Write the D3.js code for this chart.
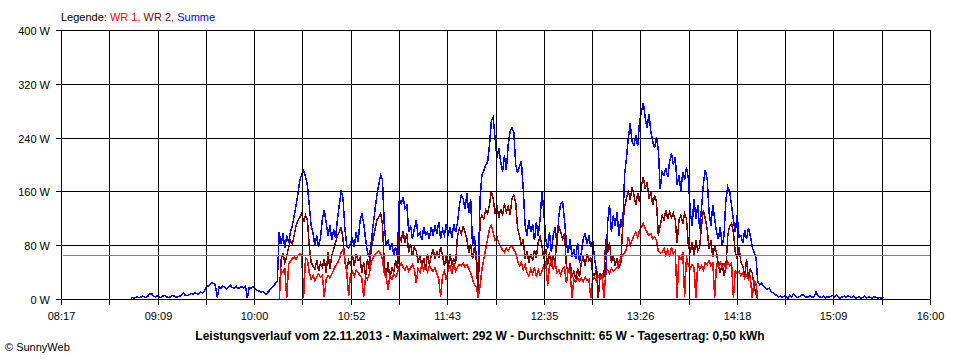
<!DOCTYPE html>
<html><head><meta charset="utf-8">
<script src="https://cdn.jsdelivr.net/npm/d3@7"></script>
<style>
html,body{margin:0;padding:0;background:#fff;}
svg{display:block;}
text{font-family:"Liberation Sans",Arial,sans-serif;font-size:11px;fill:#000;}
</style></head>
<body>
<svg id="c" width="960" height="360"></svg>
<script>
// ---- data ----
const day = [2013, 10, 22];
const axisStart = "08:17";
const axisEnd = "16:00";
const xTickLabels = ["08:17","09:09","10:00","10:52","11:43","12:35","13:26","14:18","15:09","16:00"];
const yTickValues = [0, 80, 160, 240, 320, 400];
const yTickLabels = ["0 W","80 W","160 W","240 W","320 W","400 W"];
const stepMinutes = 1;
const summeStart = "08:54";
const wrStart = "10:13";
const average = 65;
const legendParts = [["Legende: ","#000000"],["WR 1, ","#ff0000"],["WR 2, ","#800000"],["Summe","#0000ff"]];
const titleText = "Leistungsverlauf vom 22.11.2013 - Maximalwert: 292 W - Durchschnitt: 65 W - Tagesertrag: 0,50 kWh";
const footerText = "\u00a9 SunnyWeb";

const summe = [2,3,2,4,3,3,5,4,3,5,
8,9,5,4,6,4,3,5,6,4,
3,4,6,5,3,4,5,7,10,6,
6,7,9,8,10,9,8,11,10,12,
18,20,22,25,24,21,
3,
19,17,20,18,16,19,21,18,17,20,16,18,19,17,20,
2,
18,17,19,16,
14,13,11,12,10,8,
11,14,17,20,24,28,
100,
82,98,76,95,85,100,
110,125,140,158,
178,186,192,183,170,
140,110,99,
80,95,78,92,
120,133,115,
95,110,88,104,92,118,
140,162,150,
105,80,76,84,
90,78,100,85,
115,128,113,
90,70,63,84,
110,133,155,170,
185,178,
110,80,88,74,
84,66,78,63,
150,143,152,135,140,
100,110,90,105,118,95,100,88,108,96,
100,90,108,95,
110,98,115,90,104,96,112,
95,108,92,112,100,115,
140,155,150,
135,158,128,150,
80,95,63,
32,
150,185,192,
200,204,228,
265,271,
240,
210,225,205,
190,214,192,
230,250,
256,248,
200,188,
198,206,165,
110,95,118,
100,112,88,115,95,120,
160,130,
90,75,100,70,95,108,80,
125,143,145,118,
84,70,90,63,
75,60,84,55,70,
90,99,82,95,78,88,
60,45,33,
38,36,41,37,
115,141,100,125,110,
130,95,120,105,
185,210,
240,262,235,
230,245,228,
265,280,292,
270,255,276,250,
235,225,241,222,
165,190,
185,195,182,
205,217,200,212,
170,185,162,
190,178,197,180,
130,110,150,
120,140,105,135,
172,192,180,
130,110,140,120,
100,90,108,80,95,
150,167,160,140,
118,100,125,93,
95,84,103,90,
106,95,78,
70,63,
26,
22,24,20,18,15,17,12,10,
8,6,4,5,
3,5,4,2,6,4,8,5,3,4,6,7,5,3,4,6,3,5,11,6,4,3,5,2,4,3,5,6,4,7,3,2,4,5,3,6,4,3,5,2,3,4,2,3,5,2,4,3,2,4,3,2,3,2,3];

const wr1 = [0,
44,40,47,
2,
52,57,
61,63,60,66,
68,
65,
3,
62,59,
40,30,36,28,34,38,
33,36,
4,
30,36,32,38,
44,50,54,60,
70,74,
60,40,
5,
38,42,35,44,40,
36,32,
4,
34,30,38,
55,62,66,70,72,
68,60,
38,33,
15,
36,30,38,34,39,
50,54,48,
44,50,42,47,52,45,
25,
46,40,52,44,48,41,50,45,42,47,
38,30,4,
35,42,29,
44,50,38,54,42,48,52,
50,54,48,52,46,
40,30,
22,19,3,
20,45,60,
75,90,105,
110,100,
88,93,84,
78,74,70,76,72,
78,80,74,69,
58,50,55,44,52,
40,35,45,38,48,34,44,36,42,
52,56,
20,
50,59,46,54,
40,44,36,46,48,
24,
45,41,
3,
30,26,32,28,31,27,33,29,30,
2,
30,33,28,
35,31,38,
2,
40,44,39,46,42,
45,48,55,62,
66,69,75,
93,80,
88,95,100,92,103,
108,113,105,
100,95,98,90,93,88,
72,69,
70,76,66,74,63,78,68,72,
3,
66,60,70,4,64,
50,46,52,48,
3,
54,45,50,44,
55,52,58,50,56,
3,
52,49,55,48,
53,47,56,50,54,
2,
44,38,42,35,
40,32,36,30,34,
2,
28,24,
0];

const wr2 = [0,
60,68,55,64,
78,88,82,
96,110,118,
122,128,115,125,118,
80,55,50,
45,58,42,54,48,
60,40,70,45,66,
74,85,95,100,108,
90,55,45,58,
52,66,50,68,58,62,
40,55,34,60,45,
75,90,104,118,122,
128,112,
50,35,55,30,48,40,58,45,
95,88,102,84,98,
70,82,65,78,72,
55,66,48,62,44,68,52,
65,75,60,72,62,78,66,
50,64,45,68,52,60,55,
95,105,98,108,100,90,
70,82,60,78,58,
5,
118,125,120,133,128,140,
160,150,
128,140,122,135,125,143,130,138,126,
150,155,145,
105,95,80,90,
60,72,55,68,58,74,62,
85,93,80,
60,75,52,70,48,65,55,
95,108,100,90,99,
50,40,54,35,
42,30,46,34,
55,64,50,68,58,62,
40,35,44,2,38,32,
34,90,70,85,
55,66,50,62,48,54,
110,138,150,162,
148,167,155,
140,158,145,
170,182,165,175,
150,160,140,155,145,
95,110,
125,118,133,120,130,122,128,118,
84,
118,125,113,128,120,
80,70,85,65,88,72,78,
110,133,120,105,
75,88,63,80,70,
50,40,54,35,48,
95,110,113,100,
70,60,78,55,
50,35,60,30,45,40,
20,8,
0];

// ---- helpers ----
function at(hhmm){const [h,m]=hhmm.split(":").map(Number);return new Date(day[0],day[1],day[2],h,m);}
function series(startHHMM, vals){const t0=at(startHHMM).getTime();return vals.map((v,i)=>({t:new Date(t0+i*stepMinutes*60000),v}));}

const L = 61.5, R = 930.5, T = 30.5, B = 299.5;
const x = d3.scaleTime().domain([at(axisStart), at(axisEnd)]).range([L, R]);
const y = d3.scaleLinear().domain([0, 400]).range([B, T]);
const snap = v => Math.floor(v) + 0.5;

const svg = d3.select("#c");

// data lines
const line = d3.line().x(d => x(d.t)).y(d => y(d.v));
const gData = svg.append("g").attr("shape-rendering","crispEdges");
gData.append("path").datum(series(summeStart, summe)).attr("d", line).attr("fill","none").attr("stroke","#0000ff").attr("stroke-width",1.5);
gData.append("path").datum(series(wrStart, wr2)).attr("d", line).attr("fill","none").attr("stroke","#800000").attr("stroke-width",1.5);
gData.append("path").datum(series(wrStart, wr1)).attr("d", line).attr("fill","none").attr("stroke","#ff0000").attr("stroke-width",1.5);

// grid
const nInt = (xTickLabels.length - 1) * 2;
const t0 = at(axisStart).getTime(), t1 = at(axisEnd).getTime();
const gridTimes = d3.range(nInt + 1).map(k => new Date(t0 + (t1 - t0) * k / nInt));
const g = svg.append("g").attr("shape-rendering","crispEdges").attr("stroke","#000").attr("stroke-width",1);
gridTimes.forEach(tt => {
  const xx = snap(x(tt));
  g.append("line").attr("x1",xx).attr("x2",xx).attr("y1",T).attr("y2",B + 5);
});
yTickValues.forEach(v => {
  const yy = snap(y(v));
  g.append("line").attr("x1",L - 6).attr("x2",R).attr("y1",yy).attr("y2",yy);
});

// average line
svg.append("line").attr("shape-rendering","crispEdges")
  .attr("x1",L + 1).attr("x2",R - 1).attr("y1",snap(y(average))).attr("y2",snap(y(average)))
  .attr("stroke","#808080").attr("stroke-width",1);

// y labels
yTickValues.forEach((v,i) => {
  svg.append("text").attr("x",50).attr("y",snap(y(v)) + 4).attr("text-anchor","end").text(yTickLabels[i]);
});
// x labels
xTickLabels.forEach((lab,i) => {
  svg.append("text").attr("x",snap(x(gridTimes[i*2]))).attr("y",320).attr("text-anchor","middle").text(lab);
});

// legend
const leg = svg.append("text").attr("x",61).attr("y",21);
legendParts.forEach(p => leg.append("tspan").attr("fill",p[1]).text(p[0]));

// title
svg.append("text").attr("x",480).attr("y",340).attr("text-anchor","middle").attr("font-weight","bold").style("font-size","12px").text(titleText);
// footer
svg.append("text").attr("x",5).attr("y",351).text(footerText);
</script>
</body></html>
